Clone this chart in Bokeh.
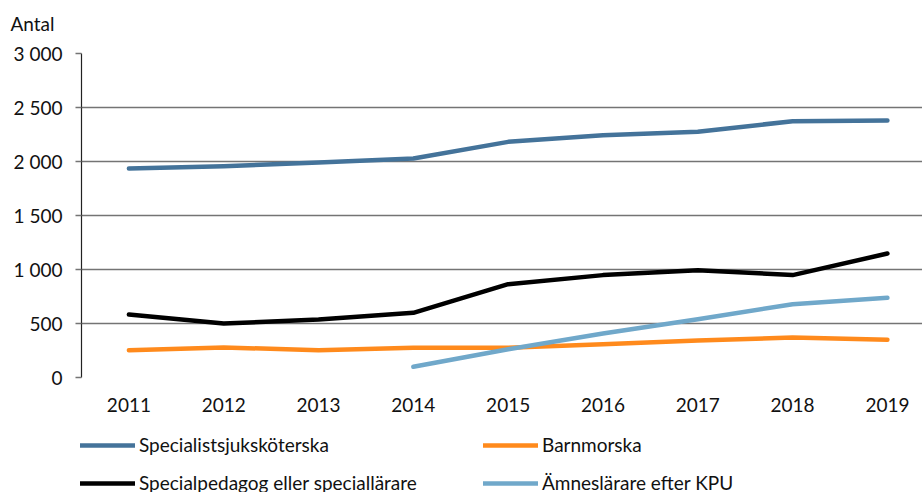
from bokeh.plotting import figure
from bokeh.models import Range1d, FixedTicker, Legend, LegendItem, Label
from bokeh.layouts import column
from bokeh.embed import file_html
from bokeh.resources import INLINE

years = [2011, 2012, 2013, 2014, 2015, 2016, 2017, 2018, 2019]
specialistsjukskoterska = [1935, 1957, 1990, 2028, 2182, 2244, 2275, 2373, 2380]
barnmorska = [253, 278, 253, 275, 275, 309, 343, 370, 349]
specialpedagog = [583, 500, 537, 599, 864, 948, 994, 948, 1148]
amneslarare_years = [2014, 2015, 2016, 2017, 2018, 2019]
amneslarare = [99, 262, 407, 540, 679, 738]

series_names = ["Specialistsjuksköterska", "Barnmorska",
                "Specialpedagog eller speciallärare", "Ämneslärare efter KPU"]
series_colors = ["#44739A", "#FF8A1C", "#000000", "#70A8CA"]

y_ticks = [0, 500, 1000, 1500, 2000, 2500, 3000]
y_tick_labels = ["0", "500", "1 000", "1 500", "2 000", "2 500", "3 000"]

FONT = "Lato"
FS = "19px"
W = 922
H0 = 40
H1 = 390
H2 = 62


def blank_strip(height):
    f = figure(width=W, height=height, output_backend="svg", toolbar_location=None,
               x_range=Range1d(0, 1), y_range=Range1d(0, 1),
               min_border_left=0, min_border_right=0, min_border_top=0, min_border_bottom=0)
    f.frame_align = False
    f.axis.visible = False
    f.grid.grid_line_color = None
    f.outline_line_color = None
    f.background_fill_color = "white"
    f.border_fill_color = "white"
    return f


# top strip with the unit label
p0 = blank_strip(H0)
p0.add_layout(Label(x=10, y=H0 - 23, x_units="screen", y_units="screen", text="Antal",
                    text_font=FONT, text_font_size=FS, text_color="#111111",
                    text_baseline="middle", text_align="left"))

# main chart
p = figure(width=W, height=H1, output_backend="svg", toolbar_location=None,
           x_range=Range1d(2010.5, 2019.37), y_range=Range1d(0, 3000),
           min_border_left=81, min_border_right=0, min_border_top=53 - H0,
           min_border_bottom=H1 - (377 - H0))
p.frame_align = False
p.outline_line_color = None
p.background_fill_color = "white"
p.border_fill_color = "white"

p.xgrid.grid_line_color = None
p.ygrid.ticker = FixedTicker(ticks=y_ticks)
p.ygrid.grid_line_color = "#747474"
p.ygrid.grid_line_width = 1.5

p.yaxis.ticker = FixedTicker(ticks=y_ticks)
p.yaxis.major_label_overrides = {t: l for t, l in zip(y_ticks, y_tick_labels)}
p.yaxis.axis_line_color = "#222222"
p.yaxis.axis_line_width = 1.2
p.yaxis.major_tick_line_color = "#747474"
p.yaxis.major_tick_line_width = 1.5
p.yaxis.major_tick_out = 6
p.yaxis.major_tick_in = 0
p.yaxis.minor_tick_line_color = None
p.yaxis.major_label_standoff = 13
p.yaxis.major_label_text_font = FONT
p.yaxis.major_label_text_font_size = FS
p.yaxis.major_label_text_color = "#111111"

p.xaxis.ticker = FixedTicker(ticks=years)
p.xaxis.axis_line_color = None
p.xaxis.major_tick_line_color = None
p.xaxis.minor_tick_line_color = None
p.xaxis.major_tick_out = 0
p.xaxis.major_tick_in = 0
p.xaxis.major_label_standoff = 20
p.xaxis.major_label_text_font = FONT
p.xaxis.major_label_text_font_size = FS
p.xaxis.major_label_text_color = "#111111"

lw = 4.5
data_x = [years, years, years, amneslarare_years]
data_y = [specialistsjukskoterska, barnmorska, specialpedagog, amneslarare]
for xs, ys, c in zip(data_x, data_y, series_colors):
    p.line(xs, ys, line_color=c, line_width=lw, line_cap="round", line_join="round")

# legend strip below the chart (same series, outside this strip's view)
p2 = blank_strip(H2)
items = []
for name, xs, ys, c in zip(series_names, data_x, data_y, series_colors):
    r = p2.line(xs, ys, line_color=c, line_width=lw, line_cap="round")
    items.append(LegendItem(label=name, renderers=[r]))

legend = Legend(items=items, location=(80, -2), orientation="horizontal", ncols=2,
                glyph_width=55, glyph_height=20, label_height=20, label_width=329,
                label_standoff=4, spacing=15, padding=0, margin=0,
                border_line_color=None, background_fill_alpha=0,
                label_text_font=FONT, label_text_font_size=FS, label_text_color="#111111")
p2.add_layout(legend, "center")

layout = column(p0, p, p2, spacing=0)
open("out.html", "w").write(file_html(layout, INLINE))
